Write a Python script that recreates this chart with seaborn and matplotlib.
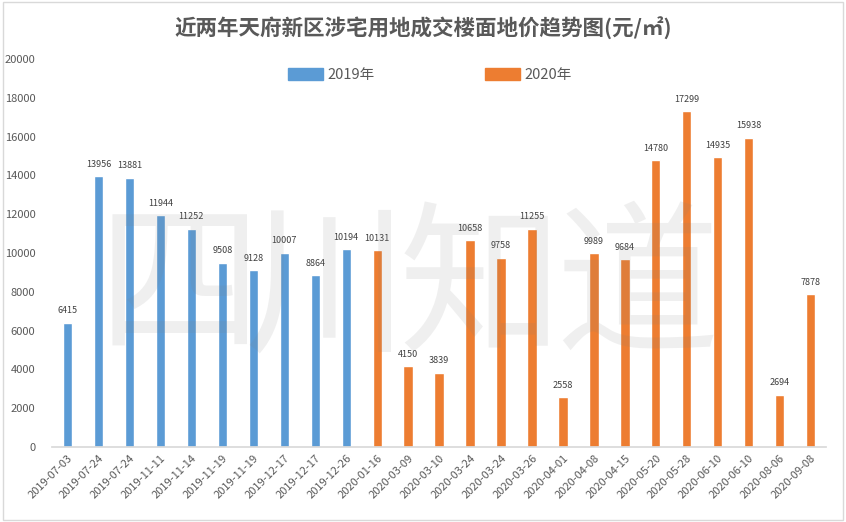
import numpy as np
import pandas as pd
import seaborn as sns
import matplotlib.pyplot as plt
from matplotlib.patches import Rectangle

dates = ["2019-07-03", "2019-07-24", "2019-07-24", "2019-11-11", "2019-11-14",
         "2019-11-19", "2019-11-19", "2019-12-17", "2019-12-17", "2019-12-26",
         "2020-01-16", "2020-03-09", "2020-03-10", "2020-03-24", "2020-03-24",
         "2020-03-26", "2020-04-01", "2020-04-08", "2020-04-15", "2020-05-20",
         "2020-05-28", "2020-06-10", "2020-06-10", "2020-08-06", "2020-09-08"]
prices = [6415, 13956, 13881, 11944, 11252, 9508, 9128, 10007, 8864, 10194,
          10131, 4150, 3839, 10658, 9758, 11255, 2558, 9989, 9684, 14780,
          17299, 14935, 15938, 2694, 7878]
years = ["2019年"] * 10 + ["2020年"] * 15

sns.set_theme(style="white")
plt.rcParams['font.family'] = ['Noto Sans CJK SC', 'DejaVu Sans']

df = pd.DataFrame({"idx": range(len(dates)), "price": prices, "year": years})
palette = {"2019年": "#5b9bd5", "2020年": "#ed7d31"}

fig = plt.figure(figsize=(8.46, 5.22), dpi=100)
ax = fig.add_axes([0.0615, 0.1437, 0.915, 0.7433])
sns.barplot(data=df, x="idx", y="price", hue="year", palette=palette,
            dodge=False, width=0.3, ax=ax, legend=False, saturation=1)

# value labels
for i, v in enumerate(prices):
    ax.text(i, v + 380, f"{v}", ha="center", va="bottom", fontsize=6.5, color="#404040")

ax.set_ylim(0, 20000)
ax.set_yticks(np.arange(0, 20001, 2000))
ax.set_xlim(-0.5, len(dates) - 0.5)
ax.set_xticks(range(len(dates)))
ax.set_xticklabels(dates, rotation=45, ha="right", rotation_mode="anchor",
                   fontsize=8, color="#595959")
ax.tick_params(axis="y", labelsize=8, labelcolor="#595959", length=0, pad=12)
ax.tick_params(axis="x", length=0, pad=4)
ax.set_xlabel("")
ax.set_ylabel("")
for s in ["top", "right", "left"]:
    ax.spines[s].set_visible(False)
ax.spines["bottom"].set_color("#d9d9d9")

fig.text(0.5, 0.945, "近两年天府新区涉宅用地成交楼面地价趋势图(元/㎡)", ha="center", va="center",
         fontsize=15.5, fontweight="bold", color="#595959")

# legend
handles = [Rectangle((0, 0), 1, 1, color=palette[y]) for y in palette]
fig.legend(handles, list(palette), loc="center", bbox_to_anchor=(0.508, 0.856), ncol=2,
           frameon=False, fontsize=10.5, labelcolor="#595959", columnspacing=7.6,
           handlelength=2.4, handleheight=0.9, handletextpad=0.3)

# watermark, one character at a time so it sits tight like the original
for ch, xc in zip("四川知道", [180, 326, 481, 637]):
    fig.text(xc / 846, 0.44, ch, ha="center", va="center", fontsize=118,
             fontweight="light", color="#808080", alpha=0.12, zorder=10)

# outer border
fig.patches.append(Rectangle((0.003, 0.004), 0.994, 0.992, transform=fig.transFigure,
                             fill=False, edgecolor="#d9d9d9", linewidth=1))

fig.savefig("out.png", dpi=100)
